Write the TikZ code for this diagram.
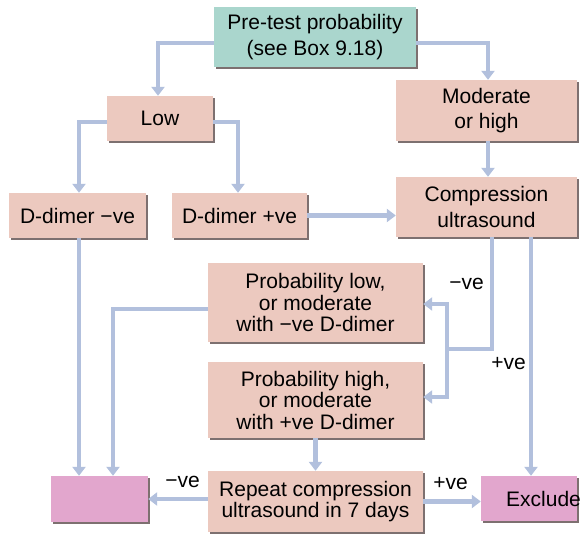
\documentclass[tikz,border=0pt]{standalone}
\usepackage{fontspec}
\setmainfont{Liberation Sans}
\usetikzlibrary{arrows.meta}
\definecolor{boxteal}{RGB}{170,214,205}
\definecolor{boxsalmon}{RGB}{236,201,191}
\definecolor{boxpink}{RGB}{226,166,205}
\definecolor{arrowc}{RGB}{178,192,221}
\definecolor{shadowc}{RGB}{125,112,112}
\tikzset{
  box/.style={fill=boxsalmon, inner sep=0pt, align=center,
    font=\fontsize{21}{25.5}\selectfont,
    preaction={fill=shadowc, transform canvas={shift={(1.6pt,-1.6pt)}}}},
  tightbox/.style={box, font=\fontsize{21}{21.5}\selectfont},
  conn/.style={draw=arrowc, line width=4.5pt, -{Triangle[width=13pt,length=9pt]}},
  plainconn/.style={draw=arrowc, line width=4.5pt},
  lbl/.style={inner sep=0pt, font=\fontsize{21}{25}\selectfont}
}
\begin{document}
\begin{tikzpicture}[x=1pt,y=-1pt]
\fill[white] (0,0) rectangle (581,534);
\useasboundingbox (0,0) rectangle (581,534);

\node[box, fill=boxteal, minimum width=202pt, minimum height=60pt] (pre) at (315,37) {Pre-test probability\\(see Box 9.18)};
\node[box, minimum width=106pt, minimum height=45pt] (low) at (160,118.5) {Low};
\node[box, minimum width=181pt, minimum height=61pt] (mod) at (486.5,110.5) {Moderate\\or high};
\node[box, minimum width=137pt, minimum height=45pt] (dneg) at (77.5,215.5) {D-dimer \textminus ve};
\node[box, minimum width=135pt, minimum height=45pt] (dpos) at (239.5,215.5) {D-dimer +ve};
\node[box, minimum width=181pt, minimum height=60pt] (comp) at (486.5,207) {Compression\\ultrasound};
\node[tightbox, minimum width=215pt, minimum height=79pt] (plow) at (315.5,302.5) {Probability low,\\or moderate\\with \textminus ve D-dimer};
\node[tightbox, minimum width=215pt, minimum height=76pt] (phigh) at (315.5,400) {Probability high,\\or moderate\\with +ve D-dimer};
\node[tightbox, minimum width=215pt, minimum height=61pt] (rep) at (315.5,501.5) {Repeat compression\\ultrasound in 7 days};
\node[box, fill=boxpink, minimum width=97pt, minimum height=46pt] (res) at (99.5,499) {};
\node[box, fill=boxpink, minimum width=96pt, minimum height=45pt] (excl) at (529,498.5) {};
\node[lbl, anchor=west] (exclt) at (506,499) {Exclude};

\node[lbl] (l1) at (466.5,284) {\textminus ve};
\node[lbl] (l2) at (508.5,364) {+ve};
\node[lbl] (l3) at (182.5,482) {\textminus ve};
\node[lbl] (l4) at (450.5,484) {+ve};

\draw[conn] ([yshift=-6pt]pre.west) -| ([xshift=-2pt]low.north);
\draw[conn] ([yshift=-6pt]pre.east) -| ([xshift=1.5pt]mod.north);
\draw[conn] ([yshift=-3.5pt]low.west) -| ([xshift=1.5pt]dneg.north);
\draw[conn] ([yshift=-3.5pt]low.east) -| ([xshift=-1.5pt]dpos.north);
\draw[conn] ([xshift=1.5pt]mod.south) -- ([xshift=1.5pt]comp.north);
\draw[conn] (dpos.east) -- (dpos.east -| comp.west);

\coordinate (dn) at ([xshift=1.5pt]dneg.south);
\draw[conn] (dn) -- (dn |- res.north);
\coordinate (pl) at ([xshift=13.5pt]res.north);
\draw[conn] ([yshift=-6.5pt]plow.west) -| (pl);

\coordinate (j) at (447,349);
\coordinate (c1) at ([xshift=5.5pt]comp.south);
\draw[plainconn] (c1) |- (j);
\draw[conn] (j) |- ([yshift=-1.5pt]plow.east);
\draw[conn] (j) |- ([yshift=3pt]phigh.east);
\coordinate (c2) at ([xshift=44.5pt]comp.south);
\draw[conn] (c2) -- (c2 |- excl.north);

\draw[conn] (phigh.south) -- (rep.north);
\draw[conn] (rep.west |- res.east) -- (res.east);
\draw[conn] (rep.east) -- (rep.east -| excl.west);
\end{tikzpicture}
\end{document}
